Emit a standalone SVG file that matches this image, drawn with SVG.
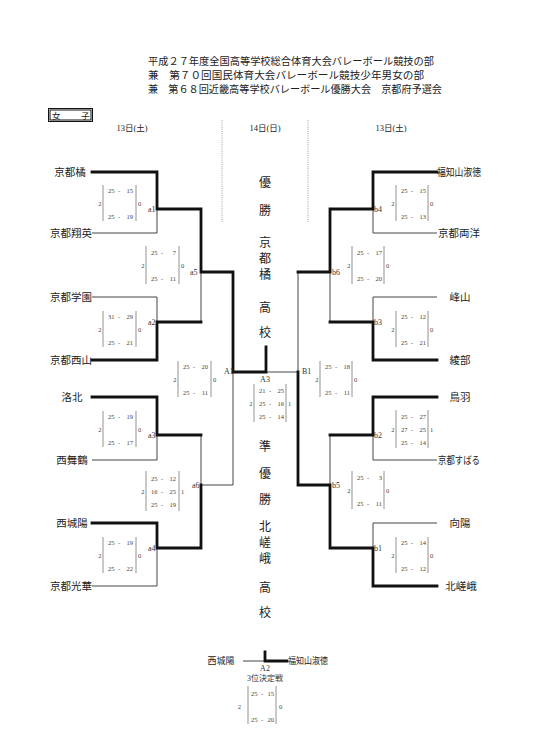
<svg xmlns="http://www.w3.org/2000/svg" width="535" height="748" viewBox="0 0 535 748">
<style>
text{font-family:"Liberation Serif","Noto Sans CJK JP",serif;fill:#222}
.title{font-size:10.2px}
.hdr{font-size:8.5px;text-anchor:middle}
.team{font-size:10.5px;text-anchor:middle;dominant-baseline:central}
.lab{font-size:8px;dominant-baseline:central;fill:#333}
.sc{font-size:6.5px;fill:#444;dominant-baseline:central}
.mid{text-anchor:middle}
.end{text-anchor:end}
.bar{stroke:#777;stroke-width:0.8;fill:none}
.thin{stroke:#444;stroke-width:1;fill:none}
.thick{stroke:#111;stroke-width:2.8;fill:none;stroke-linejoin:miter;stroke-linecap:square}
.big{font-size:12px;text-anchor:middle;dominant-baseline:central}
.dot{stroke:#888;stroke-width:0.8;stroke-dasharray:1 1.2}
</style>
<rect width="535" height="748" fill="#fff"/>
<g id="title">
<text class="title" x="148" y="65" textLength="286" lengthAdjust="spacingAndGlyphs">平成２７年度全国高等学校総合体育大会バレーボール競技の部</text>
<text class="title" x="148" y="79" textLength="276" lengthAdjust="spacingAndGlyphs">兼　第７０回国民体育大会バレーボール競技少年男女の部</text>
<text class="title" x="148" y="93" textLength="294" lengthAdjust="spacingAndGlyphs">兼　第６８回近畿高等学校バレーボール優勝大会　京都府予選会</text>
</g>
<g id="category">
<rect x="48.5" y="108.5" width="44" height="13" fill="none" stroke="#111" stroke-width="1"/>
<rect x="50" y="110" width="41" height="10" fill="none" stroke="#111" stroke-width="1"/>
<text x="52" y="118.5" style="font-size:8.5px">女</text>
<text x="81" y="118.5" style="font-size:8.5px">子</text>
</g>
<g id="headers">
<text class="hdr" x="132" y="131">13日(土)</text>
<text class="hdr" x="265" y="131">14日(日)</text>
<text class="hdr" x="391" y="131">13日(土)</text>
<line class="dot" x1="222" y1="120" x2="222" y2="222"/>
<line class="dot" x1="308" y1="120" x2="308" y2="222"/>
</g>
<g id="connectors">
<path class="thin" d="M92 233H157V209M92 297H157V322M92 460H157V435M92 586H157V548M201 272V322M201 435V485H233V372"/>
<path class="thin" d="M437 233H373V209M437 297H373V322M437 460H373V435M437 523H373V548M330 272V322M330 435V485M298 272V372H266M243 661H265"/>
<path class="thick" d="M92 172H157V209H201V272H233V372H266V347"/>
<path class="thick" d="M92 360H157V322H201"/>
<path class="thick" d="M92 397H157V435H201"/>
<path class="thick" d="M92 523H157V548H201V485"/>
<path class="thick" d="M437 172H373V209H330V272H298"/>
<path class="thick" d="M437 360H373V322H330"/>
<path class="thick" d="M437 397H373V435H330"/>
<path class="thick" d="M437 586H373V548H330V485H298V372"/>
<path class="thick" d="M265 652V661H287"/>
</g>
<g id="team-kyototachibana"><text class="team" x="70" y="172">京都橘</text></g>
<g id="team-kyotoshoei"><text class="team" x="71" y="233">京都翔英</text></g>
<g id="team-kyotogakuen"><text class="team" x="71" y="297">京都学園</text></g>
<g id="team-kyotonishiyama"><text class="team" x="71" y="360">京都西山</text></g>
<g id="team-rakuhoku"><text class="team" x="72" y="397">洛北</text></g>
<g id="team-nishimaizuru"><text class="team" x="72" y="460">西舞鶴</text></g>
<g id="team-nishijoyo"><text class="team" x="72" y="523">西城陽</text></g>
<g id="team-kyotokoka"><text class="team" x="71" y="586">京都光華</text></g>
<g id="team-fukuchiyama"><text class="team" x="459" y="172" textLength="44" lengthAdjust="spacingAndGlyphs">福知山淑徳</text></g>
<g id="team-kyotoryoyo"><text class="team" x="459" y="233">京都両洋</text></g>
<g id="team-mineyama"><text class="team" x="460" y="297">峰山</text></g>
<g id="team-ayabe"><text class="team" x="460" y="360">綾部</text></g>
<g id="team-toba"><text class="team" x="460" y="397">鳥羽</text></g>
<g id="team-kyotosubaru"><text class="team" x="459" y="460" textLength="42" lengthAdjust="spacingAndGlyphs">京都すばる</text></g>
<g id="team-koyo"><text class="team" x="460" y="523">向陽</text></g>
<g id="team-kitasaga"><text class="team" x="461" y="586">北嵯峨</text></g>

<g id="match-a1"><text class="lab" x="148" y="209">a1</text>
<g transform="translate(103,203)"><path class="bar" d="M0 -18V18M33 -18V18"/><text class="sc end" x="-1.5" y="0">2</text><text class="sc" x="35" y="0">0</text>
<text class="sc" x="5" y="-13">25</text><text class="sc mid" x="16" y="-13">-</text><text class="sc end" x="30" y="-13">15</text>
<text class="sc" x="5" y="13">25</text><text class="sc mid" x="16" y="13">-</text><text class="sc end" x="30" y="13">19</text></g></g>
<g id="match-a2"><text class="lab" x="148" y="322">a2</text>
<g transform="translate(103,329)"><path class="bar" d="M0 -18V18M33 -18V18"/><text class="sc end" x="-1.5" y="0">2</text><text class="sc" x="35" y="0">0</text>
<text class="sc" x="5" y="-13">31</text><text class="sc mid" x="16" y="-13">-</text><text class="sc end" x="30" y="-13">29</text>
<text class="sc" x="5" y="13">25</text><text class="sc mid" x="16" y="13">-</text><text class="sc end" x="30" y="13">21</text></g></g>
<g id="match-a3"><text class="lab" x="148" y="435">a3</text>
<g transform="translate(103,429)"><path class="bar" d="M0 -18V18M33 -18V18"/><text class="sc end" x="-1.5" y="0">2</text><text class="sc" x="35" y="0">0</text>
<text class="sc" x="5" y="-13">25</text><text class="sc mid" x="16" y="-13">-</text><text class="sc end" x="30" y="-13">19</text>
<text class="sc" x="5" y="13">25</text><text class="sc mid" x="16" y="13">-</text><text class="sc end" x="30" y="13">17</text></g></g>
<g id="match-a4"><text class="lab" x="148" y="548">a4</text>
<g transform="translate(103,555)"><path class="bar" d="M0 -18V18M33 -18V18"/><text class="sc end" x="-1.5" y="0">2</text><text class="sc" x="35" y="0">0</text>
<text class="sc" x="5" y="-13">25</text><text class="sc mid" x="16" y="-13">-</text><text class="sc end" x="30" y="-13">19</text>
<text class="sc" x="5" y="13">25</text><text class="sc mid" x="16" y="13">-</text><text class="sc end" x="30" y="13">22</text></g></g>
<g id="match-a5"><text class="lab" x="190" y="272">a5</text>
<g transform="translate(146,265)"><path class="bar" d="M0 -19V19M33 -19V19"/><text class="sc end" x="-1.5" y="0">2</text><text class="sc" x="35" y="0">0</text>
<text class="sc" x="5" y="-13">25</text><text class="sc mid" x="16" y="-13">-</text><text class="sc end" x="30" y="-13">7</text>
<text class="sc" x="5" y="13">25</text><text class="sc mid" x="16" y="13">-</text><text class="sc end" x="30" y="13">11</text></g></g>
<g id="match-a6"><text class="lab" x="192" y="485">a6</text>
<g transform="translate(146,491)"><path class="bar" d="M0 -20V20M33 -20V20"/><text class="sc end" x="-1.5" y="0">2</text><text class="sc" x="35" y="0">1</text>
<text class="sc" x="5" y="-13">25</text><text class="sc mid" x="16" y="-13">-</text><text class="sc end" x="30" y="-13">12</text>
<text class="sc" x="5" y="0">16</text><text class="sc mid" x="16" y="0">-</text><text class="sc end" x="30" y="0">25</text>
<text class="sc" x="5" y="13">25</text><text class="sc mid" x="16" y="13">-</text><text class="sc end" x="30" y="13">19</text></g></g>
<g id="match-A1"><text class="lab" x="224" y="371">A1</text>
<g transform="translate(178,379)"><path class="bar" d="M0 -18V18M33 -18V18"/><text class="sc end" x="-1.5" y="0">2</text><text class="sc" x="35" y="0">0</text>
<text class="sc" x="5" y="-13">25</text><text class="sc mid" x="16" y="-13">-</text><text class="sc end" x="30" y="-13">20</text>
<text class="sc" x="5" y="13">25</text><text class="sc mid" x="16" y="13">-</text><text class="sc end" x="30" y="13">11</text></g></g>
<g id="match-A3"><text class="lab mid" x="265" y="379">A3</text>
<g transform="translate(254,403)"><path class="bar" d="M0 -19V19M32 -19V19"/><text class="sc end" x="-1.5" y="0">2</text><text class="sc" x="34" y="0">1</text>
<text class="sc" x="5" y="-13">21</text><text class="sc mid" x="16" y="-13">-</text><text class="sc end" x="30" y="-13">25</text>
<text class="sc" x="5" y="0">25</text><text class="sc mid" x="16" y="0">-</text><text class="sc end" x="30" y="0">16</text>
<text class="sc" x="5" y="13">25</text><text class="sc mid" x="16" y="13">-</text><text class="sc end" x="30" y="13">14</text></g></g>
<g id="match-B1"><text class="lab" x="302" y="371">B1</text>
<g transform="translate(320,379)"><path class="bar" d="M0 -18V18M32 -18V18"/><text class="sc end" x="-1.5" y="0">2</text><text class="sc" x="34" y="0">0</text>
<text class="sc" x="5" y="-13">25</text><text class="sc mid" x="16" y="-13">-</text><text class="sc end" x="30" y="-13">18</text>
<text class="sc" x="5" y="13">25</text><text class="sc mid" x="16" y="13">-</text><text class="sc end" x="30" y="13">11</text></g></g>
<g id="match-b6"><text class="lab" x="332" y="272">b6</text>
<g transform="translate(352,265)"><path class="bar" d="M0 -19V19M32 -19V19"/><text class="sc end" x="-1.5" y="0">2</text><text class="sc" x="34" y="0">0</text>
<text class="sc" x="5" y="-13">25</text><text class="sc mid" x="16" y="-13">-</text><text class="sc end" x="30" y="-13">17</text>
<text class="sc" x="5" y="13">25</text><text class="sc mid" x="16" y="13">-</text><text class="sc end" x="30" y="13">20</text></g></g>
<g id="match-b5"><text class="lab" x="332" y="485">b5</text>
<g transform="translate(352,490)"><path class="bar" d="M0 -19V19M32 -19V19"/><text class="sc end" x="-1.5" y="0">2</text><text class="sc" x="34" y="0">0</text>
<text class="sc" x="5" y="-13">25</text><text class="sc mid" x="16" y="-13">-</text><text class="sc end" x="30" y="-13">3</text>
<text class="sc" x="5" y="13">25</text><text class="sc mid" x="16" y="13">-</text><text class="sc end" x="30" y="13">11</text></g></g>
<g id="match-b4"><text class="lab" x="374" y="209">b4</text>
<g transform="translate(396,203)"><path class="bar" d="M0 -18V18M32 -18V18"/><text class="sc end" x="-1.5" y="0">2</text><text class="sc" x="34" y="0">0</text>
<text class="sc" x="5" y="-13">25</text><text class="sc mid" x="16" y="-13">-</text><text class="sc end" x="30" y="-13">15</text>
<text class="sc" x="5" y="13">25</text><text class="sc mid" x="16" y="13">-</text><text class="sc end" x="30" y="13">13</text></g></g>
<g id="match-b3"><text class="lab" x="374" y="322">b3</text>
<g transform="translate(396,329)"><path class="bar" d="M0 -18V18M32 -18V18"/><text class="sc end" x="-1.5" y="0">2</text><text class="sc" x="34" y="0">0</text>
<text class="sc" x="5" y="-13">25</text><text class="sc mid" x="16" y="-13">-</text><text class="sc end" x="30" y="-13">12</text>
<text class="sc" x="5" y="13">25</text><text class="sc mid" x="16" y="13">-</text><text class="sc end" x="30" y="13">21</text></g></g>
<g id="match-b2"><text class="lab" x="374" y="435">b2</text>
<g transform="translate(396,429)"><path class="bar" d="M0 -19V19M32 -19V19"/><text class="sc end" x="-1.5" y="0">2</text><text class="sc" x="34" y="0">1</text>
<text class="sc" x="5" y="-13">25</text><text class="sc mid" x="16" y="-13">-</text><text class="sc end" x="30" y="-13">27</text>
<text class="sc" x="5" y="0">27</text><text class="sc mid" x="16" y="0">-</text><text class="sc end" x="30" y="0">25</text>
<text class="sc" x="5" y="13">25</text><text class="sc mid" x="16" y="13">-</text><text class="sc end" x="30" y="13">14</text></g></g>
<g id="match-b1"><text class="lab" x="374" y="548">b1</text>
<g transform="translate(396,555)"><path class="bar" d="M0 -18V18M32 -18V18"/><text class="sc end" x="-1.5" y="0">2</text><text class="sc" x="34" y="0">0</text>
<text class="sc" x="5" y="-13">25</text><text class="sc mid" x="16" y="-13">-</text><text class="sc end" x="30" y="-13">14</text>
<text class="sc" x="5" y="13">25</text><text class="sc mid" x="16" y="13">-</text><text class="sc end" x="30" y="13">12</text></g></g>

<g id="winner">
<text class="big" x="265" y="183">優</text><text class="big" x="265" y="211">勝</text>
<text class="big" x="265" y="243">京</text><text class="big" x="265" y="259">都</text><text class="big" x="265" y="275">橘</text>
<text class="big" x="265" y="308">高</text><text class="big" x="265" y="333">校</text>
</g>
<g id="runnerup">
<text class="big" x="265" y="447">準</text><text class="big" x="265" y="474">優</text><text class="big" x="265" y="500">勝</text>
<text class="big" x="265" y="527">北</text><text class="big" x="265" y="543">嵯</text><text class="big" x="265" y="559">峨</text>
<text class="big" x="265" y="588">高</text><text class="big" x="265" y="613">校</text>
</g>

<g id="match-A2">
<text class="team" x="221" y="661" style="font-size:9px">西城陽</text>
<text class="team" x="308" y="661" style="font-size:9px" textLength="40" lengthAdjust="spacingAndGlyphs">福知山淑徳</text>
<text class="lab mid" x="265" y="668">A2</text>
<text class="lab mid" x="265" y="678">3位決定戦</text>
<g transform="translate(248,706)"><path class="bar" d="M0 -20V18M28 -20V18"/><text class="sc end" x="-7" y="0">2</text><text class="sc" x="31" y="0">0</text>
<text class="sc" x="3" y="-13">25</text><text class="sc mid" x="14" y="-13">-</text><text class="sc end" x="26" y="-13">15</text>
<text class="sc" x="3" y="13">25</text><text class="sc mid" x="14" y="13">-</text><text class="sc end" x="26" y="13">20</text></g>
</g>
</svg>
